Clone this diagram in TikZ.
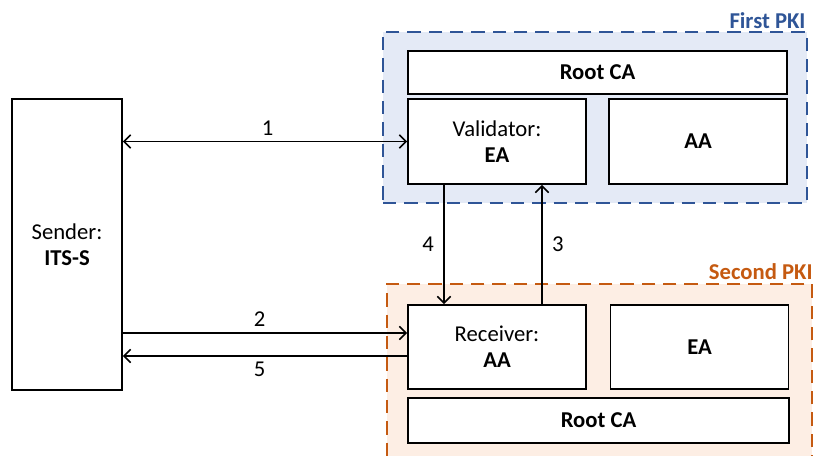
\documentclass[tikz,border=0pt]{standalone}
\usepackage{fontspec}
\setmainfont{Carlito}
\usetikzlibrary{arrows.meta}

\definecolor{pkiblue}{HTML}{2F5597}
\definecolor{pkibluefill}{HTML}{E4EAF6}
\definecolor{pkiorange}{HTML}{C55A11}
\definecolor{pkiorangefill}{HTML}{FDEEE4}

\begin{document}
\begin{tikzpicture}[x=0.75pt,y=-0.75pt,
  every node/.style={font=\fontsize{17}{19.5}\selectfont,align=center},
  box/.style={draw,fill=white,line width=1.25pt,inner sep=0pt},
  pki/.style={draw=#1,dash pattern=on 10pt off 6pt,line width=1.2pt,inner sep=0pt},
  msg/.style={line width=1.2pt,-{Straight Barb[length=5pt,width=10pt]}},
  twoway/.style={line width=1.2pt,{Straight Barb[length=5pt,width=10pt]}-{Straight Barb[length=5pt,width=10pt]}}]
\useasboundingbox (0,0) rectangle (814,455);

% the two PKI domains
\node[pki=pkiblue,fill=pkibluefill,minimum width=318pt,minimum height=128.25pt] (pki1) at (595,117.5) {};
\node[pki=pkiorange,fill=pkiorangefill,minimum width=318.75pt,minimum height=139.5pt] (pki2) at (599.5,377) {};
\node[anchor=base east,inner sep=0pt,text=pkiblue] at ([xshift=-1.5pt,yshift=2pt]pki1.north east) {\textbf{First PKI}};
\node[anchor=base east,inner sep=0pt,text=pkiorange] at ([yshift=2.5pt]pki2.north east) {\textbf{Second PKI}};

% entities
\node[box,minimum width=82.5pt,minimum height=218.25pt] (sender) at (67,244.5) {Sender:\\\textbf{ITS-S}};
\node[box,minimum width=284.25pt,minimum height=32.25pt] (root1) at (597.5,72.5) {\textbf{Root CA}};
\node[box,minimum width=133.5pt,minimum height=63.75pt] (val) at (497,141.5) {Validator:\\\textbf{EA}};
\node[box,minimum width=133.5pt,minimum height=63.75pt] (aa1) at (698,141.5) {\textbf{AA}};
\node[box,minimum width=133.5pt,minimum height=63pt] (rec) at (497,347) {Receiver:\\\textbf{AA}};
\node[box,minimum width=133.5pt,minimum height=63pt] (ea2) at (699.5,347) {\textbf{EA}};
\node[box,minimum width=285.75pt,minimum height=33.75pt] (root2) at (598.5,420.5) {\textbf{Root CA}};

% messages
\coordinate (m2) at ([yshift=10.5pt]rec.west);
\coordinate (m5) at ([yshift=-6.75pt]rec.west);
\coordinate (m4) at ([xshift=-39.75pt]val.south);
\coordinate (m3) at ([xshift=33.75pt]val.south);
\draw[twoway] (sender.east |- val.west) -- (val.west) node[midway,above=2pt,inner sep=2pt,xshift=2pt] {1};
\draw[msg] (sender.east |- m2) -- (m2) node[midway,above=2pt,inner sep=2pt,xshift=-4pt] {2};
\draw[msg] (m5) -- (sender.east |- m5) node[midway,below=2pt,inner sep=2pt,xshift=-4pt] {5};
\draw[msg] (m4) -- (m4 |- rec.north) node[midway,left=5pt,inner sep=2pt] {4};
\draw[msg] (m3 |- rec.north) -- (m3) node[midway,right=5pt,inner sep=2pt] {3};
\end{tikzpicture}
\end{document}
